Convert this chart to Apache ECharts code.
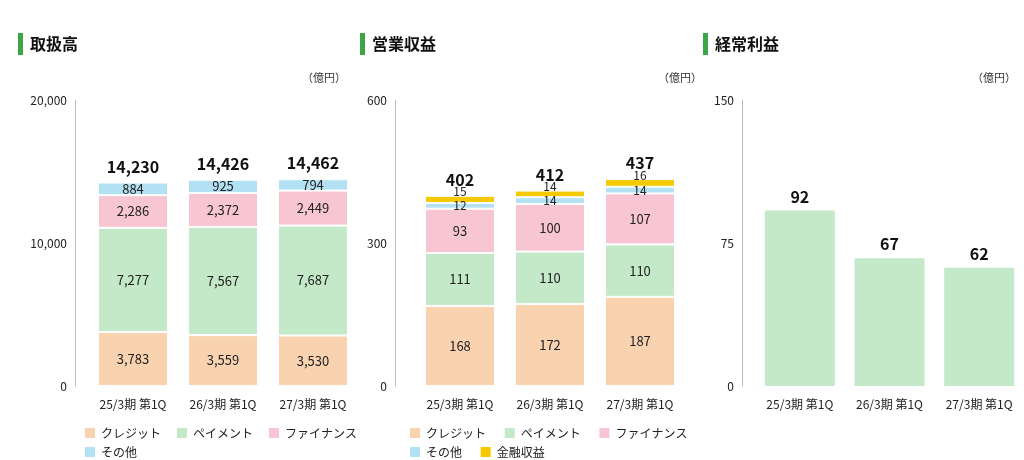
<!DOCTYPE html>
<html lang="ja">
<head>
<meta charset="UTF-8" />
<script src="https://cdn.jsdelivr.net/npm/echarts@6/dist/echarts.min.js"></script>
<style>body{margin:0;background:#fff}#box{width:1024px;height:460px}</style>
</head>
<body>
<div id="box"></div>
<script>
var cats = ["25/3期 第1Q", "26/3期 第1Q", "27/3期 第1Q"];
// 取扱高
var volCredit = [3783, 3559, 3530];
var volPayment = [7277, 7567, 7687];
var volFinance = [2286, 2372, 2449];
var volOther = [884, 925, 794];
var volTotal = [14230, 14426, 14462];
// 営業収益
var revCredit = [168, 172, 187];
var revPayment = [111, 110, 110];
var revFinance = [93, 100, 107];
var revOther = [12, 14, 14];
var revFin = [15, 14, 16];
var revTotal = [402, 412, 437];
// 経常利益
var profit = [92, 67, 62];

var C = { credit: "#f9d3b0", pay: "#c3e9c8", fin: "#f8c6d3", other: "#b2e1f3", kin: "#f5c900" };
var font = "'Noto Sans CJK JP', sans-serif";

function seg(name, data, color, g, stack, fmt) {
  return {
    name: name, type: "bar", stack: stack, xAxisIndex: g, yAxisIndex: g, data: data,
    barWidth: 70, itemStyle: { color: color, borderColor: "#fff", borderWidth: 1 },
    label: { show: true, position: "inside", color: "#222", fontSize: 13, fontFamily: font,
      formatter: function (p) { return fmt ? p.value.toLocaleString("en-US") : p.value; } }
  };
}
function total(data, g, stack) {
  return {
    type: "bar", stack: stack, xAxisIndex: g, yAxisIndex: g, data: [0, 0, 0], barWidth: 70,
    silent: true,
    label: { show: true, position: "top", distance: 8, fontSize: 16, fontWeight: "bold", color: "#111", fontFamily: font,
      formatter: function (p) { return data[p.dataIndex].toLocaleString("en-US"); } }
  };
}
function title(x, text) {
  return [
    { type: "rect", shape: { x: x, y: 33, width: 5, height: 22 }, style: { fill: "#3aa646" } },
    { type: "text", x: x + 12, y: 36, style: { text: text, font: "bold 16px " + font, fill: "#111" } }
  ];
}
function unit(x) {
  return { type: "text", x: x, y: 72, style: { text: "（億円）", font: "11px " + font, fill: "#333" } };
}
var lefts = [88, 415, 755];
var offs = [13, 20, 13];
var maxes = [20000, 600, 150];
var grids = [], xAxes = [], yAxes = [];
for (var i = 0; i < 3; i++) {
  grids.push({ left: lefts[i], width: 270, top: 100, height: 286 });
  xAxes.push({ type: "category", gridIndex: i, data: cats, axisLine: { show: false }, axisTick: { show: false },
    axisLabel: { color: "#222", fontSize: 12, fontFamily: font, margin: 12 } });
  yAxes.push({ type: "value", gridIndex: i, min: 0, max: maxes[i], interval: maxes[i] / 2, offset: offs[i],
    axisLine: { show: true, lineStyle: { color: "#bbb" } }, axisTick: { show: false }, splitLine: { show: false },
    axisLabel: { color: "#222", fontSize: 12, fontFamily: font,
      formatter: function (v) { return v.toLocaleString("en-US"); } } });
}
function leg(left, top, names) {
  return { left: left, top: top, itemWidth: 12, itemHeight: 12, itemGap: 14, icon: "rect",
    textStyle: { fontSize: 12, color: "#222", fontFamily: font }, data: names };
}
var option = {
  animation: false,
  graphic: [].concat(title(18, "取扱高"), title(360, "営業収益"), title(703, "経常利益"),
    [unit(302), unit(658), unit(972)]),
  grid: grids, xAxis: xAxes, yAxis: yAxes,
  legend: [
    leg(78, 421, ["クレジット", "ペイメント", "ファイナンス"]),
    leg(78, 440, ["その他"]),
    leg(403, 421, ["クレジット ", "ペイメント ", "ファイナンス "]),
    leg(403, 440, ["その他 ", "金融収益"])
  ],
  series: [
    seg("クレジット", volCredit, C.credit, 0, "a", true),
    seg("ペイメント", volPayment, C.pay, 0, "a", true),
    seg("ファイナンス", volFinance, C.fin, 0, "a", true),
    seg("その他", volOther, C.other, 0, "a", true),
    total(volTotal, 0, "a"),
    seg("クレジット ", revCredit, C.credit, 1, "b"),
    seg("ペイメント ", revPayment, C.pay, 1, "b"),
    seg("ファイナンス ", revFinance, C.fin, 1, "b"),
    seg("その他 ", revOther, C.other, 1, "b"),
    seg("金融収益", revFin, C.kin, 1, "b"),
    total(revTotal, 1, "b"),
    { type: "bar", xAxisIndex: 2, yAxisIndex: 2, data: profit, barWidth: 70,
      itemStyle: { color: C.pay },
      label: { show: true, position: "top", distance: 6, fontSize: 16, fontWeight: "bold", color: "#111", fontFamily: font } }
  ]
};
// small segments: shrink label font
option.series[8].label.fontSize = 12;
option.series[9].label.fontSize = 12;
option.series[9].label.position = "top";
option.series[9].label.distance = -2;
var myChart = echarts.init(document.getElementById("box"));
myChart.setOption(option);
</script>
</body>
</html>
